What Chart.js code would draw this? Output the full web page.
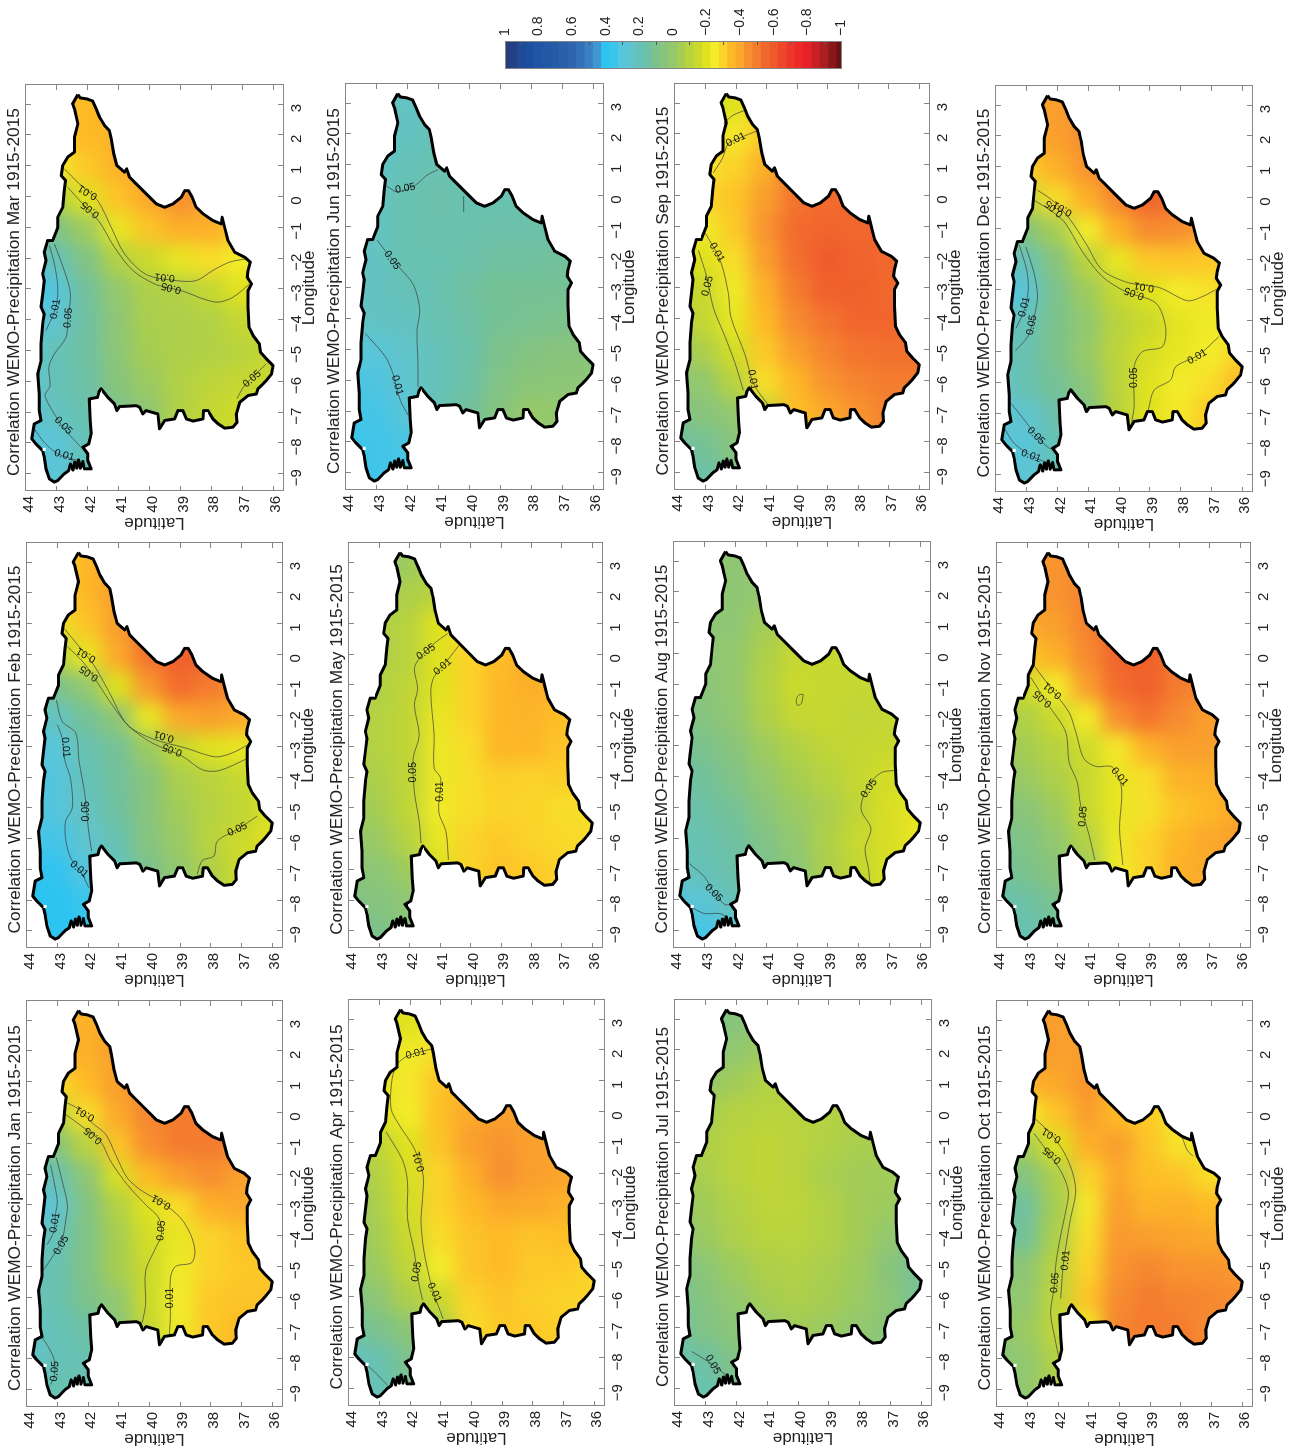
<!DOCTYPE html>
<html>
<head>
<meta charset="utf-8">
<title>Correlation WEMO-Precipitation 1915-2015</title>
<script src="https://cdn.jsdelivr.net/npm/chart.js@4"></script>
<style>
  html, body { margin: 0; width: 1291px; height: 1452px; overflow: hidden; background: #fff; }
  /* the whole figure is a landscape page turned a quarter turn */
  #figure { position: absolute; left: 0; top: 0; width: 1452px; height: 1291px; transform-origin: 0 0; transform: translate(0, 1452px) rotate(-90deg); }
  #figure canvas { position: absolute; }
</style>
</head>
<body>
<div id="figure"></div>
<script>
const MONTHS = ["Jan", "Feb", "Mar", "Apr", "May", "Jun", "Jul", "Aug", "Sep", "Oct", "Nov", "Dec"];
const LON_TICKS = [-9, -8, -7, -6, -5, -4, -3, -2, -1, 0, 1, 2, 3];
const LAT_TICKS = [36, 37, 38, 39, 40, 41, 42, 43, 44];
const COLORBAR_TICKS = [1, 0.8, 0.6, 0.4, 0.2, 0, -0.2, -0.4, -0.6, -0.8, -1];

// grid the correlation cells are read on
const GRID_LONS = [-9, -8, -7, -6, -5, -4, -3, -2, -1, 0, 1, 2, 3];
const GRID_LATS = [44, 43, 42, 41, 40, 39, 38, 37, 36];

const COLOR_LEVELS = [1, 0.95, 0.9, 0.85, 0.8, 0.75, 0.7, 0.65, 0.6, 0.55, 0.5, 0.45, 0.4, 0.35, 0.3, 0.25, 0.2, 0.15, 0.1, 0.05, 0,
  -0.05, -0.1, -0.15, -0.2, -0.25, -0.3, -0.35, -0.4, -0.45, -0.5, -0.55, -0.6, -0.65, -0.7, -0.75, -0.8, -0.85, -0.9, -0.95, -1];
const COLOR_VALUES = ["#2a3b7d", "#243f85", "#1f4a97", "#1c4f9f", "#1f55a3", "#2258a5", "#255ca8", "#2a60aa", "#2e65ad", "#3470b5", "#3b80c2", "#3f97d4", "#2cc4f1", "#3ac5ec", "#56c5dd", "#60c4cf", "#66c2b8", "#6dc1a6", "#7cc28c", "#88c47c", "#93c86f",
  "#a6cd52", "#b9d33e", "#cbd92c", "#e0e21f", "#f3ec2a", "#fbd32a", "#fdba26", "#fba92b", "#f78f30", "#f47c2f", "#f1682d", "#ef5a2c", "#ee482a", "#ed3829", "#ec2a28", "#e62228", "#c92026", "#aa1e22", "#8a181b", "#6b1312"];

const COAST_LONS = [3.31, 3.20, 3.17, 3.10, 2.85, 2.58, 2.31, 2.14, 1.87, 1.39, 1.01, 0.79, 0.90, 0.63, 0.47, 0.09, -0.24, -0.35, -0.24, -0.02, 0.19, 0.19, -0.02, -0.35, -0.56, -0.78, -0.89, -0.67, -1.0, -1.43, -1.81, -1.97, -2.13, -2.40, -2.62, -2.84, -3.05, -3.59, -4.24, -4.51, -4.78, -5.05, -5.27, -5.49, -5.76, -5.97, -6.08, -6.24, -6.41, -6.46, -6.68, -7.06, -7.33, -7.49, -7.52, -7.38, -7.22, -6.95, -6.95, -7.22, -7.29, -7.22, -6.95, -6.95, -7.22, -7.27, -7.54, -7.06, -6.95, -7.06, -6.84, -6.79, -6.82, -6.95, -6.73, -6.52, -6.24, -6.35, -6.52, -6.57, -7.29, -7.71, -8.03, -8.14, -8.35, -8.57, -8.84, -8.84, -8.6, -8.82, -8.55, -8.82, -8.62, -8.88, -8.68, -8.9, -9.0, -9.22, -9.27, -9.17, -8.84, -8.46, -8.25, -8.03, -7.87, -7.38, -7.27, -6.95, -6.41, -5.76, -5.32, -4.78, -4.13, -3.81, -3.59, -3.16, -2.73, -2.51, -2.08, -1.81, -1.43, -1.43, -1.0, -0.67, -0.35, 0.19, 0.52, 0.68, 1.01, 1.28, 1.44, 1.93, 2.36, 2.85, 3.01, 3.31];
const COAST_LATS = [42.32, 42.24, 42.03, 41.84, 41.73, 41.62, 41.46, 41.30, 41.24, 41.16, 41.06, 40.81, 40.74, 40.65, 40.49, 40.11, 39.78, 39.51, 39.24, 38.97, 38.86, 38.74, 38.62, 38.49, 38.27, 37.95, 37.68, 37.65, 37.57, 37.46, 37.24, 36.92, 36.74, 36.81, 36.84, 36.70, 36.81, 36.81, 36.78, 36.65, 36.45, 36.41, 36.22, 36.0, 36.05, 36.22, 36.32, 36.49, 36.54, 36.81, 37.08, 37.19, 37.17, 37.30, 37.57, 37.78, 37.95, 38.11, 38.25, 38.27, 38.59, 38.81, 38.92, 39.08, 39.19, 39.51, 39.68, 39.73, 40.11, 40.22, 40.32, 40.43, 40.97, 41.06, 41.14, 41.35, 41.57, 41.64, 41.68, 41.95, 41.92, 41.89, 41.97, 42.16, 42.0, 42.0, 41.89, 42.11, 42.16, 42.24, 42.30, 42.36, 42.42, 42.48, 42.56, 42.62, 42.76, 42.97, 43.08, 43.24, 43.35, 43.41, 43.46, 43.68, 43.81, 43.73, 43.51, 43.57, 43.57, 43.62, 43.51, 43.51, 43.46, 43.41, 43.51, 43.46, 43.41, 43.46, 43.35, 43.41, 43.30, 43.14, 42.97, 42.97, 42.81, 42.76, 42.72, 42.86, 42.81, 42.65, 42.43, 42.43, 42.32, 42.43, 42.49, 42.32];

// correlation per month: one row per GRID_LATS entry, one column per GRID_LONS entry
const corrJan = [
  [.2, .25, .22, .22, .22, .28, .32, .25, .15, .05, -.1, -.25, -.3],
  [.18, .2, .2, .18, .18, .2, .25, .18, .05, -.1, -.28, -.38, -.38],
  [.18, .18, .15, .1, .08, .08, .07, .02, -.1, -.28, -.35, -.38, -.38],
  [.1, .1, .05, 0, -.05, -.05, -.08, -.18, -.33, -.4, -.42, -.42, -.42],
  [-.1, -.1, -.13, -.15, -.15, -.17, -.2, -.35, -.45, -.47, -.47, -.47, -.47],
  [-.22, -.22, -.24, -.25, -.24, -.22, -.28, -.42, -.5, -.5, -.5, -.5, -.5],
  [-.32, -.32, -.32, -.32, -.3, -.3, -.38, -.45, -.5, -.5, -.5, -.5, -.5],
  [-.35, -.35, -.35, -.33, -.32, -.33, -.4, -.42, -.47, -.47, -.47, -.47, -.47],
  [-.33, -.33, -.33, -.33, -.33, -.33, -.38, -.4, -.45, -.45, -.45, -.45, -.45],
];
const corrFeb = [
  [.35, .4, .38, .33, .32, .32, .32, .28, .2, .05, -.1, -.22, -.28],
  [.4, .4, .38, .33, .3, .3, .28, .22, .1, -.1, -.22, -.28, -.3],
  [.38, .35, .3, .25, .22, .2, .18, .12, 0, -.22, -.33, -.36, -.36],
  [.25, .25, .22, .18, .14, .13, .12, .02, -.2, -.4, -.42, -.42, -.42],
  [.1, .1, .1, .06, .05, .05, -.02, -.22, -.43, -.52, -.52, -.5, -.5],
  [0, 0, 0, -.02, -.04, -.06, -.13, -.4, -.54, -.58, -.58, -.55, -.55],
  [-.08, -.08, -.07, -.1, -.09, -.1, -.2, -.42, -.5, -.56, -.56, -.56, -.56],
  [-.15, -.15, -.15, -.15, -.12, -.14, -.22, -.4, -.45, -.5, -.5, -.5, -.5],
  [-.2, -.2, -.2, -.2, -.18, -.16, -.2, -.3, -.4, -.45, -.45, -.45, -.45],
];
const corrMar = [
  [.28, .3, .3, .28, .28, .3, .35, .28, .15, -.05, -.2, -.28, -.32],
  [.28, .28, .22, .2, .2, .25, .3, .2, .08, -.08, -.25, -.32, -.33],
  [.22, .2, .18, .15, .14, .14, .13, .08, -.03, -.2, -.32, -.35, -.35],
  [.15, .12, .1, .05, .03, .02, 0, -.08, -.22, -.33, -.37, -.37, -.37],
  [.05, .05, .02, -.02, -.05, -.06, -.07, -.15, -.33, -.4, -.42, -.4, -.4],
  [-.08, -.08, -.08, -.08, -.07, -.07, -.08, -.22, -.38, -.45, -.46, -.45, -.45],
  [-.13, -.13, -.13, -.11, -.08, -.08, -.13, -.28, -.38, -.42, -.42, -.42, -.42],
  [-.16, -.16, -.16, -.13, -.1, -.13, -.2, -.25, -.33, -.36, -.36, -.36, -.36],
  [-.17, -.17, -.17, -.15, -.13, -.15, -.2, -.25, -.3, -.33, -.33, -.33, -.33],
];
const corrApr = [
  [.22, .22, .15, .1, .06, .03, .03, 0, -.05, -.15, -.2, -.2, -.2],
  [.2, .18, .1, .02, -.03, -.05, -.07, -.09, -.12, -.2, -.22, -.2, -.17],
  [.12, .1, .03, -.07, -.12, -.15, -.17, -.18, -.2, -.25, -.26, -.24, -.2],
  [0, 0, -.05, -.15, -.25, -.28, -.3, -.3, -.33, -.34, -.33, -.28, -.25],
  [-.28, -.28, -.28, -.3, -.33, -.33, -.35, -.38, -.42, -.4, -.37, -.35, -.33],
  [-.32, -.32, -.32, -.33, -.35, -.35, -.4, -.45, -.44, -.42, -.4, -.4, -.4],
  [-.33, -.33, -.32, -.31, -.32, -.33, -.4, -.42, -.42, -.41, -.41, -.41, -.41],
  [-.33, -.32, -.31, -.3, -.32, -.34, -.38, -.41, -.41, -.41, -.41, -.41, -.41],
  [-.3, -.3, -.3, -.3, -.3, -.32, -.36, -.4, -.4, -.4, -.4, -.4, -.4],
];
const corrMay = [
  [.1, .08, .05, .03, 0, -.03, -.05, -.06, -.07, -.05, -.02, 0, 0],
  [.1, .06, .03, -.02, -.05, -.07, -.09, -.09, -.08, -.07, -.07, -.03, 0],
  [.04, .02, -.03, -.09, -.12, -.12, -.12, -.12, -.12, -.1, -.1, -.07, -.03],
  [-.05, -.05, -.18, -.22, -.24, -.23, -.23, -.22, -.2, -.2, -.2, -.1, -.1],
  [-.3, -.3, -.3, -.3, -.28, -.28, -.28, -.3, -.3, -.3, -.28, -.25, -.25],
  [-.3, -.3, -.33, -.32, -.3, -.31, -.36, -.36, -.36, -.34, -.34, -.34, -.34],
  [-.32, -.33, -.32, -.3, -.3, -.3, -.36, -.37, -.38, -.4, -.38, -.38, -.38],
  [-.3, -.3, -.3, -.29, -.28, -.31, -.33, -.34, -.38, -.38, -.38, -.38, -.38],
  [-.28, -.28, -.28, -.28, -.28, -.3, -.32, -.33, -.36, -.36, -.36, -.36, -.36],
];
const corrJun = [
  [.33, .34, .34, .33, .3, .25, .25, .25, .24, .24, .24, .24, .24],
  [.34, .34, .33, .31, .28, .22, .22, .22, .22, .22, .23, .24, .24],
  [.33, .32, .28, .25, .24, .22, .2, .18, .18, .18, .2, .22, .22],
  [.2, .2, .2, .2, .2, .18, .18, .18, .17, .16, .18, .2, .2],
  [.12, .12, .13, .15, .16, .15, .14, .16, .17, .18, .18, .2, .2],
  [.05, .05, .06, .08, .1, .12, .12, .14, .16, .18, .18, .18, .18],
  [0, 0, -.01, .04, .07, .11, .12, .14, .16, .17, .17, .17, .17],
  [0, 0, 0, .03, .05, .1, .12, .13, .15, .15, .15, .15, .15],
  [.03, .03, .03, .03, .05, .1, .12, .13, .15, .15, .15, .15, .15],
];
const corrJul = [
  [.2, .18, .15, .12, .1, .05, .02, -.02, -.04, -.02, .03, .1, .12],
  [.18, .14, .08, .06, .03, -.02, -.04, -.06, -.07, -.05, 0, .08, .12],
  [.12, .08, .03, 0, -.03, -.07, -.08, -.1, -.1, -.09, -.04, 0, .05],
  [.05, .03, 0, -.05, -.07, -.1, -.11, -.12, -.12, -.1, -.08, -.03, 0],
  [0, 0, -.04, -.07, -.08, -.1, -.11, -.1, -.1, -.1, -.1, -.1, -.1],
  [0, 0, -.02, -.05, -.06, -.08, -.08, -.06, -.08, -.09, -.1, -.1, -.1],
  [.02, .02, 0, -.02, -.03, -.04, -.04, -.04, -.06, -.06, -.06, -.06, -.06],
  [.05, .05, .04, .03, .05, 0, -.03, -.04, -.05, -.05, -.05, -.05, -.05],
  [.1, .1, .1, .12, .12, .05, 0, -.03, -.04, -.04, -.04, -.04, -.04],
];
const corrAug = [
  [.3, .3, .22, .2, .2, .18, .15, .1, .08, .03, 0, -.02, 0],
  [.33, .27, .2, .18, .15, .13, .1, .06, .04, .02, .02, 0, 0],
  [.28, .2, .16, .14, .12, .08, .05, .01, 0, 0, .02, .02, .02],
  [.18, .13, .1, .08, .04, 0, -.03, -.07, -.08, -.07, -.04, 0, 0],
  [.05, .05, .03, 0, -.02, -.05, -.08, -.13, -.15, -.13, -.1, -.08, -.05],
  [-.07, -.07, -.06, -.07, -.06, -.09, -.12, -.14, -.14, -.14, -.12, -.12, -.12],
  [-.12, -.13, -.13, -.14, -.12, -.13, -.13, -.12, -.13, -.13, -.13, -.13, -.13],
  [-.17, -.17, -.18, -.18, -.18, -.17, -.14, -.13, -.13, -.13, -.13, -.13, -.13],
  [-.2, -.2, -.2, -.22, -.22, -.2, -.16, -.14, -.13, -.13, -.13, -.13, -.13],
];
const corrSep = [
  [.18, .14, .08, .03, 0, -.07, -.1, -.14, -.2, -.25, -.22, -.15, -.12],
  [.15, .12, .05, 0, -.07, -.13, -.15, -.2, -.24, -.3, -.27, -.18, -.12],
  [.1, .05, 0, -.1, -.17, -.22, -.24, -.28, -.32, -.33, -.3, -.26, -.2],
  [0, -.03, -.12, -.28, -.32, -.35, -.38, -.42, -.44, -.42, -.38, -.32, -.3],
  [-.3, -.3, -.34, -.36, -.42, -.46, -.5, -.53, -.54, -.52, -.5, -.5, -.5],
  [-.35, -.36, -.4, -.44, -.48, -.52, -.58, -.6, -.56, -.54, -.54, -.54, -.54],
  [-.42, -.42, -.44, -.48, -.52, -.56, -.58, -.57, -.55, -.55, -.55, -.55, -.55],
  [-.48, -.48, -.48, -.5, -.53, -.56, -.55, -.55, -.55, -.55, -.55, -.55, -.55],
  [-.5, -.5, -.5, -.5, -.53, -.55, -.55, -.55, -.55, -.55, -.55, -.55, -.55],
];
const corrOct = [
  [.08, .05, .02, .02, .05, .16, .18, .06, 0, -.1, -.3, -.42, -.44],
  [0, 0, -.02, 0, .02, .12, .13, .06, -.05, -.25, -.38, -.45, -.44],
  [-.07, -.08, -.12, -.12, -.1, -.07, -.05, -.07, -.2, -.33, -.4, -.42, -.42],
  [-.15, -.2, -.24, -.33, -.3, -.28, -.26, -.3, -.38, -.42, -.44, -.42, -.42],
  [-.48, -.48, -.48, -.46, -.44, -.43, -.42, -.4, -.42, -.35, -.36, -.36, -.36],
  [-.5, -.5, -.5, -.5, -.47, -.42, -.37, -.34, -.33, -.32, -.3, -.3, -.3],
  [-.48, -.5, -.5, -.48, -.44, -.41, -.38, -.33, -.27, -.25, -.25, -.25, -.25],
  [-.46, -.46, -.46, -.47, -.44, -.4, -.35, -.28, -.23, -.23, -.23, -.23, -.23],
  [-.45, -.45, -.45, -.45, -.43, -.4, -.35, -.28, -.23, -.23, -.23, -.23, -.23],
];
const corrNov = [
  [.2, .18, .15, .12, .08, .05, 0, -.05, -.15, -.3, -.38, -.42, -.42],
  [.18, .15, .1, .08, .04, -.02, -.05, -.08, -.16, -.33, -.4, -.44, -.42],
  [.15, .1, .05, 0, -.03, -.07, -.1, -.15, -.25, -.38, -.42, -.44, -.44],
  [.05, .02, -.02, -.09, -.14, -.14, -.16, -.25, -.42, -.46, -.48, -.48, -.48],
  [-.24, -.24, -.24, -.23, -.22, -.22, -.26, -.45, -.54, -.56, -.56, -.56, -.56],
  [-.28, -.28, -.3, -.3, -.27, -.28, -.37, -.52, -.58, -.58, -.58, -.58, -.58],
  [-.35, -.38, -.38, -.36, -.33, -.37, -.42, -.46, -.5, -.52, -.52, -.52, -.52],
  [-.38, -.38, -.4, -.4, -.36, -.38, -.42, -.42, -.46, -.46, -.46, -.46, -.46],
  [-.42, -.42, -.42, -.42, -.4, -.4, -.42, -.42, -.44, -.44, -.44, -.44, -.44],
];
const corrDec = [
  [.25, .3, .28, .25, .22, .28, .33, .25, .1, -.1, -.28, -.35, -.4],
  [.27, .28, .25, .18, .18, .2, .27, .2, .05, -.12, -.3, -.4, -.42],
  [.22, .2, .16, .12, .1, .1, .1, .05, -.05, -.28, -.38, -.42, -.42],
  [.15, .1, .08, .03, -.01, 0, -.03, -.1, -.25, -.38, -.44, -.45, -.45],
  [-.08, -.1, -.1, -.1, -.11, -.1, -.14, -.22, -.38, -.47, -.5, -.5, -.5],
  [-.2, -.2, -.2, -.2, -.18, -.15, -.2, -.32, -.46, -.56, -.56, -.56, -.56],
  [-.27, -.27, -.26, -.25, -.22, -.21, -.25, -.33, -.45, -.52, -.52, -.52, -.52],
  [-.32, -.32, -.32, -.28, -.25, -.24, -.27, -.32, -.4, -.45, -.45, -.45, -.45],
  [-.35, -.35, -.36, -.36, -.3, -.26, -.28, -.32, -.4, -.42, -.42, -.42, -.42],
];

// significance contours, [lon, lat] pairs
const contoursJan = [
  [[-1.69, 43.23], [-2.23, 43.12], [-2.88, 43.01], [-3.31, 43.07], [-3.85, 43.12], [-4.29, 43.34]],
  [[-1.47, 43.04], [-2.23, 42.85], [-3.0, 42.68], [-3.53, 42.74], [-4.12, 42.85], [-4.61, 43.12], [-5.1, 43.45]],
  [[-7.26, 43.52], [-7.86, 43.17], [-8.18, 43.09], [-8.61, 43.12], [-8.83, 43.23]],
  [[0.31, 42.68], [0.10, 42.30], [-0.34, 41.87], [-0.71, 41.43], [-1.36, 41.11], [-2.12, 40.73], [-2.55, 40.24], [-2.92, 39.59], [-3.42, 38.99], [-3.96, 38.66], [-4.50, 38.52], [-4.88, 38.63], [-4.99, 39.15], [-5.37, 39.32], [-6.56, 39.32], [-7.21, 39.35]],
  [[-0.06, 42.74], [-0.50, 42.14], [-0.93, 41.60], [-1.58, 41.27], [-2.34, 40.73], [-2.99, 40.13], [-3.42, 39.70], [-3.96, 39.61], [-4.39, 39.80], [-5.15, 40.13], [-6.23, 40.13], [-6.83, 40.24]],
];
const labelsJan = [[-3.58, 43.09, "0.01", -80], [-4.31, 42.88, "0.05", -60], [-8.40, 43.09, "0.05", -85], [-0.04, 42.11, "0.01", -150], [-0.75, 41.84, "0.05", -140], [-2.90, 39.62, "0.01", -150], [-3.83, 39.62, "0.05", -85], [-6.02, 39.32, "0.01", -90]];
const contoursFeb = [
  [[-1.49, 43.04], [-2.19, 42.85], [-2.56, 42.41], [-3.48, 42.30], [-4.57, 42.11], [-5.65, 42.0], [-6.41, 41.89]],
  [[-2.29, 43.01], [-2.73, 42.85], [-3.48, 42.76], [-4.03, 42.58], [-5.0, 42.52], [-5.43, 42.74], [-6.0, 42.74], [-6.62, 42.58], [-7.06, 42.25], [-7.6, 41.98]],
  [[0.84, 42.79], [0.25, 42.30], [-0.35, 41.82], [-1.21, 41.33], [-2.29, 40.73], [-2.75, 39.91], [-3.05, 38.83], [-3.34, 37.85], [-3.21, 37.30], [-2.94, 36.78]],
  [[0.25, 42.68], [-0.29, 42.14], [-1.0, 41.65], [-1.65, 41.22], [-2.35, 40.67], [-2.89, 39.91], [-3.32, 38.93], [-3.76, 38.28], [-3.79, 37.74], [-3.38, 36.78]],
  [[-5.27, 36.49], [-5.70, 37.14], [-6.08, 37.79], [-6.57, 37.90], [-6.71, 38.28], [-7.16, 38.45]],
];
const labelsFeb = [[-3.03, 42.74, "0.01", 85], [-5.11, 42.07, "0.05", -90], [-7.0, 42.30, "0.01", 40], [-0.02, 42.07, "0.01", -150], [-0.62, 41.98, "0.05", -145], [-2.67, 39.53, "0.01", -165], [-3.11, 39.26, "0.05", -160], [-5.70, 37.14, "0.05", -25]];
const contoursMar = [
  [[-1.59, 43.24], [-2.19, 43.08], [-2.94, 42.97], [-3.59, 43.03], [-4.35, 43.35]],
  [[-1.54, 43.08], [-2.40, 42.76], [-3.16, 42.56], [-4.03, 42.65], [-4.57, 42.70], [-5.11, 43.08], [-5.54, 43.26], [-6.14, 43.22], [-6.46, 43.38], [-7.06, 43.08], [-7.54, 42.76], [-8.14, 42.22]],
  [[-7.54, 43.73], [-7.98, 43.41], [-8.35, 42.97], [-8.57, 42.32]],
  [[0.90, 42.76], [0.41, 42.27], [-0.13, 41.68], [-1.0, 41.24], [-1.86, 40.81], [-2.53, 40.11], [-2.73, 39.14], [-2.73, 38.49], [-2.40, 37.95], [-2.13, 37.41], [-2.02, 36.86]],
  [[0.30, 42.65], [-0.24, 42.16], [-0.83, 41.62], [-1.64, 41.14], [-2.40, 40.54], [-2.86, 39.78], [-3.07, 38.92], [-3.32, 38.27], [-3.43, 37.78], [-3.27, 37.30], [-2.86, 36.78]],
  [[-5.43, 36.22], [-6.13, 36.92], [-6.56, 37.17]],
];
const labelsMar = [[-3.65, 43.05, "0.01", -80], [-3.94, 42.63, "0.05", -85], [-7.44, 42.79, "0.05", 45], [-8.40, 42.76, "0.01", 15], [0.14, 42.0, "0.01", -150], [-0.43, 41.92, "0.05", -140], [-2.62, 39.51, "0.01", -175], [-2.97, 39.30, "0.05", -165], [-5.92, 36.68, "0.05", -40]];
const contoursApr = [
  [[2.05, 41.22], [1.83, 42.03], [1.56, 42.41], [1.07, 42.59], [0.10, 42.63], [-0.44, 42.36], [-1.20, 41.87], [-2.07, 41.58], [-2.82, 41.60], [-3.58, 41.65], [-4.56, 41.55], [-5.75, 41.28], [-6.73, 40.93]],
  [[-0.66, 42.79], [-1.58, 42.25], [-2.28, 42.09], [-3.47, 42.09], [-4.56, 41.87], [-5.53, 41.73], [-6.13, 41.60]],
  [[-7.91, 43.76], [-8.45, 43.17], [-8.89, 42.74]],
];
const labelsApr = [[1.88, 41.82, "0.01", -15], [-1.63, 41.71, "0.01", -105], [-5.2, 41.79, "0.05", -80], [-5.88, 41.22, "0.01", 65]];
const contoursMay = [
  [[0.67, 40.76], [0.35, 41.20], [-0.14, 41.69], [-0.47, 41.85], [-1.12, 41.74], [-1.66, 41.85], [-2.64, 41.69], [-3.39, 41.89], [-4.47, 41.85], [-5.44, 41.69], [-6.15, 41.63]],
  [[0.29, 40.38], [-0.19, 40.76], [-0.73, 41.20], [-1.22, 41.31], [-2.63, 41.20], [-3.71, 41.20], [-4.04, 40.98], [-5.12, 41.05], [-5.77, 40.81], [-6.69, 40.73]],
];
const labelsMay = [[0.08, 41.47, "0.05", -35], [-0.41, 40.92, "0.01", -40], [-3.84, 41.89, "0.05", -90], [-4.47, 41.01, "0.01", -90]];
const contoursJun = [
  [[0.30, 42.67], [0.12, 42.34], [0.34, 41.75], [0.66, 41.38], [0.84, 41.02]],
  [[-1.45, 42.99], [-1.94, 42.61], [-2.37, 42.24], [-2.91, 41.81], [-3.72, 41.61], [-4.37, 41.70], [-5.45, 41.67], [-6.21, 41.67]],
  [[-4.48, 43.37], [-5.24, 42.72], [-5.78, 42.48], [-6.65, 42.24], [-7.13, 41.99]],
  [[-0.02, 40.19], [-0.53, 40.19]],
];
const labelsJun = [[0.23, 42.08, "0.05", -10], [-2.10, 42.51, "0.05", 55], [-6.16, 42.34, "0.01", 75]];
const contoursJul = [
  [[-7.79, 43.45], [-8.2, 42.8], [-8.67, 42.2]],
];
const labelsJul = [[-8.21, 42.77, "0.05", 60]];
const contoursAug = [
  [[-3.79, 36.73], [-3.86, 37.25], [-4.27, 37.68], [-4.82, 37.90], [-5.14, 37.90], [-5.68, 37.60], [-6.33, 37.79], [-6.98, 37.68], [-7.47, 37.63]],
  [[-1.33, 39.80], [-1.62, 39.86], [-1.68, 39.99], [-1.46, 40.02], [-1.33, 39.91], [-1.33, 39.80]],
  [[-6.82, 43.5], [-7.25, 43.01], [-7.79, 42.68], [-8.15, 42.34], [-8.12, 42.09]],
  [[-8.23, 43.45], [-8.44, 43.01], [-8.44, 42.52], [-8.58, 42.23]],
];
const labelsAug = [[-4.38, 37.66, "0.05", -55], [-7.77, 42.71, "0.05", 45]];
const contoursSep = [
  [[0.74, 42.74], [1.20, 42.45], [1.69, 42.25], [1.85, 41.92], [2.12, 41.27]],
  [[2.34, 42.41], [2.61, 42.09], [2.77, 41.70]],
  [[-1.23, 43.0], [-2.10, 42.52], [-3.18, 42.25], [-3.94, 42.17], [-5.18, 41.70], [-6.10, 41.43], [-6.81, 40.94]],
  [[-1.78, 43.23], [-2.64, 42.96], [-3.65, 42.74], [-4.58, 42.36], [-5.45, 42.03], [-6.33, 41.76]],
];
const labelsSep = [[1.81, 42.01, "0.01", -25], [-1.85, 42.63, "0.01", 60], [-2.94, 42.93, "0.05", -75], [-5.98, 41.46, "0.01", 80]];
const contoursOct = [
  [[-0.19, 42.77], [-0.68, 42.25], [-1.28, 41.82], [-1.93, 41.54], [-2.58, 41.43], [-3.44, 41.60], [-4.09, 41.71], [-4.96, 41.84], [-6.04, 41.92]],
  [[-0.68, 42.79], [-1.34, 42.30], [-1.99, 41.87], [-2.58, 41.67], [-3.22, 41.76], [-3.98, 41.92], [-4.85, 42.07], [-5.71, 42.14], [-6.50, 42.25], [-7.33, 42.11], [-8.04, 41.96]],
  [[-0.79, 37.96], [-1.23, 37.79], [-1.41, 37.61]],
];
const labelsOct = [[-0.74, 42.22, "0.01", -150], [-1.39, 42.2, "0.05", -140], [-4.80, 41.76, "0.01", -85], [-5.53, 42.11, "0.05", -85]];
const contoursNov = [
  [[-0.37, 42.78], [-1.18, 42.17], [-1.89, 41.63], [-2.53, 41.41], [-3.40, 41.14], [-3.65, 40.75], [-3.67, 40.21], [-4.21, 39.93], [-4.70, 39.90], [-5.67, 39.97], [-6.86, 39.86]],
  [[-0.75, 42.89], [-1.61, 42.34], [-2.53, 41.74], [-3.51, 41.63], [-4.16, 41.36], [-4.91, 41.25], [-5.89, 40.97], [-6.70, 40.78]],
];
const labelsNov = [[-1.18, 42.17, "0.01", -140], [-1.45, 42.5, "0.05", -140], [-3.99, 39.97, "0.01", 50], [-5.28, 41.17, "0.05", -85]];
const contoursDec = [
  [[-1.55, 43.24], [-2.36, 43.0], [-3.0, 42.95], [-3.65, 43.08], [-4.25, 43.35]],
  [[-1.6, 43.03], [-2.46, 42.76], [-3.22, 42.65], [-3.87, 42.76], [-4.52, 42.97], [-4.97, 43.37]],
  [[-6.68, 43.51], [-7.22, 43.08], [-7.71, 42.70], [-8.14, 42.27], [-8.14, 42.03]],
  [[-7.49, 43.73], [-7.98, 43.41], [-8.41, 42.81], [-8.61, 42.32]],
  [[0.24, 42.65], [-0.14, 42.11], [-0.74, 41.57], [-1.49, 41.08], [-2.36, 40.54], [-2.77, 39.68], [-2.92, 38.70], [-3.35, 37.78], [-3.22, 37.30], [-2.95, 36.78]],
  [[-0.09, 42.76], [-0.39, 42.27], [-0.79, 41.78], [-1.76, 41.19], [-2.57, 40.54], [-3.06, 39.78], [-3.42, 38.81], [-4.19, 38.49], [-4.84, 38.59], [-5.0, 39.24], [-5.49, 39.51], [-6.79, 39.51], [-7.28, 39.59]],
  [[-4.52, 36.76], [-5.11, 37.41], [-5.49, 38.16], [-5.92, 38.32], [-6.25, 38.86], [-6.90, 39.05]],
];
const labelsDec = [[-3.55, 43.08, "0.01", -75], [-4.14, 42.84, "0.05", -80], [-7.74, 42.7, "0.05", 45], [-8.39, 42.86, "0.01", 20], [-0.36, 42.11, "0.05", -140], [-0.36, 41.84, "0.01", -150], [-2.9, 39.19, "0.01", -170], [-3.11, 39.51, "0.05", -160], [-5.85, 39.51, "0.05", -90], [-5.17, 37.46, "0.01", -30]];

const CORR = [corrJan, corrFeb, corrMar, corrApr, corrMay, corrJun, corrJul, corrAug, corrSep, corrOct, corrNov, corrDec];
const CONTOURS = [contoursJan, contoursFeb, contoursMar, contoursApr, contoursMay, contoursJun, contoursJul, contoursAug, contoursSep, contoursOct, contoursNov, contoursDec];
const LABELS = [labelsJan, labelsFeb, labelsMar, labelsApr, labelsMay, labelsJun, labelsJul, labelsAug, labelsSep, labelsOct, labelsNov, labelsDec];

// plot area of each panel in the unrotated figure: left, top, right, bottom
const PANEL_AREAS = [
  [45, 27, 451, 282], [504, 27, 909, 282], [961, 26, 1367, 283],
  [46, 349, 452, 604], [504, 349, 909, 602], [962, 346, 1368, 603],
  [46, 675, 452, 931], [504, 674, 910, 930], [962, 675, 1368, 929],
  [45, 997, 451, 1252], [504, 997, 909, 1250], [960, 996, 1366, 1252],
];
const MARGIN_LEFT = 42, MARGIN_RIGHT = 34, MARGIN_TOP = 26, MARGIN_BOTTOM = 37;
const AXIS_GREY = "#858585";
const FONT = "'Liberation Sans', Arial, sans-serif";

function hexToRgb(hex) {
  return [1, 3, 5].map((i) => parseInt(hex.slice(i, i + 2), 16));
}

function corrColor(v) {
  for (let i = 1; i < COLOR_LEVELS.length; i++) {
    if (v >= COLOR_LEVELS[i]) {
      const t = (v - COLOR_LEVELS[i]) / (COLOR_LEVELS[i - 1] - COLOR_LEVELS[i]);
      const a = hexToRgb(COLOR_VALUES[i]);
      const b = hexToRgb(COLOR_VALUES[i - 1]);
      return `rgb(${a.map((c, k) => Math.round(c + (b[k] - c) * t)).join(",")})`;
    }
  }
  return COLOR_VALUES[COLOR_VALUES.length - 1];
}

function tickText(v) {
  return v < 0 ? "\u2212" + Math.abs(v) : String(v);
}

function addCanvas(left, top, width, height) {
  const canvas = document.createElement("canvas");
  canvas.width = width;
  canvas.height = height;
  canvas.style.left = left + "px";
  canvas.style.top = top + "px";
  canvas.style.width = width + "px";
  canvas.style.height = height + "px";
  document.getElementById("figure").appendChild(canvas);
  return canvas;
}

// a scale's labels must not nudge the plot area away from its fixed box
function fixBox(axis, size) {
  if (axis.isHorizontal()) axis.height = size; else axis.width = size;
  axis.paddingTop = axis.paddingBottom = axis.paddingLeft = axis.paddingRight = 0;
}

function axisLines(position, tickValues, min, max, size) {
  return {
    type: "linear",
    position,
    min,
    max,
    afterBuildTicks: (axis) => { axis.ticks = tickValues.map((value) => ({ value })); },
    afterFit: (axis) => fixBox(axis, size),
    ticks: { display: false },
    border: { color: AXIS_GREY, z: 1 },
    grid: { color: AXIS_GREY, drawOnChartArea: false, tickLength: -5, z: 1 },
  };
}

function traceCoast(ctx, scales) {
  COAST_LONS.forEach((lon, i) => {
    ctx.lineTo(scales.x.getPixelForValue(lon), scales.y.getPixelForValue(COAST_LATS[i]));
  });
  ctx.closePath();
}

// softens the correlation cells into a field and keeps only what lies inside the coast
const fieldPlugin = {
  id: "field",
  afterDatasetDraw(chart, args) {
    if (args.index !== 0) return;
    const { ctx, scales, chartArea, canvas } = chart;
    const copy = document.createElement("canvas");
    copy.width = canvas.width;
    copy.height = canvas.height;
    copy.getContext("2d").drawImage(canvas, 0, 0);

    ctx.save();
    ctx.beginPath();
    traceCoast(ctx, scales);
    ctx.clip();
    ctx.filter = "blur(9px)";
    ctx.drawImage(copy, 0, 0);
    ctx.restore();

    ctx.save();
    ctx.globalCompositeOperation = "destination-out";
    ctx.beginPath();
    ctx.rect(chartArea.left - 3, chartArea.top - 3, chartArea.width + 6, chartArea.height + 6);
    traceCoast(ctx, scales);
    ctx.fill("evenodd");
    ctx.restore();
  },
};

const contourLabelPlugin = {
  id: "contourLabels",
  afterDatasetsDraw(chart, args, opts) {
    const { ctx, scales } = chart;
    ctx.save();
    ctx.font = "10.5px " + FONT;
    ctx.fillStyle = "#111";
    ctx.textAlign = "center";
    ctx.textBaseline = "middle";
    for (const [lon, lat, text, deg] of opts.items) {
      ctx.save();
      ctx.translate(scales.x.getPixelForValue(lon), scales.y.getPixelForValue(lat));
      // angles were read on the turned page, so add the quarter turn back
      ctx.rotate(((deg + 90) * Math.PI) / 180);
      ctx.fillText(text, 0, 0);
      ctx.restore();
    }
    ctx.restore();
  },
};

function drawPanel(m) {
  const [left, top, right, bottom] = PANEL_AREAS[m];
  const canvas = addCanvas(left - MARGIN_LEFT, top - MARGIN_TOP, right - left + MARGIN_LEFT + MARGIN_RIGHT, bottom - top + MARGIN_TOP + MARGIN_BOTTOM);

  const cells = [];
  const cellColors = [];
  GRID_LATS.forEach((lat, r) => {
    GRID_LONS.forEach((lon, c) => {
      cells.push({ x: lon, y: lat });
      cellColors.push(corrColor(CORR[m][r][c]));
    });
  });

  const datasets = [
    { label: "correlation", data: cells, pointStyle: "rect", pointRadius: 24, pointBorderWidth: 0, pointBackgroundColor: cellColors, clip: 3, order: 4 },
    ...CONTOURS[m].map((line, i) => ({
      label: "contour " + i,
      data: line.map(([x, y]) => ({ x, y })),
      showLine: true,
      pointRadius: 0,
      borderColor: "#3c3c3c",
      borderWidth: 0.7,
      tension: 0.3,
      order: 3,
    })),
    {
      label: "coast",
      data: COAST_LONS.map((x, i) => ({ x, y: COAST_LATS[i] })),
      showLine: true,
      pointRadius: 0,
      borderColor: "#000",
      borderWidth: 3,
      borderJoinStyle: "round",
      clip: false,
      order: 2,
    },
    { label: "gap", data: [{ x: -8.21, y: 43.41 }], pointStyle: "rect", pointRadius: 2.2, pointBorderWidth: 0, pointBackgroundColor: "#fff", order: 1 },
  ];

  const lonMin = -9.56, lonMax = 3.62, latMin = 35.68, latMax = 44;

  new Chart(canvas, {
    type: "scatter",
    data: { datasets },
    plugins: [fieldPlugin, contourLabelPlugin],
    options: {
      animation: false,
      responsive: false,
      plugins: {
        legend: { display: false },
        tooltip: { enabled: false },
        contourLabels: { items: LABELS[m] },
        title: {
          display: true,
          text: `Correlation WEMO-Precipitation ${MONTHS[m]} 1915-2015`,
          color: "#222",
          font: { family: FONT, size: 17.3, weight: "normal" },
          padding: { top: 3.6, bottom: 1.6 },
        },
      },
      scales: {
        x: {
          type: "linear",
          position: "bottom",
          min: lonMin,
          max: lonMax,
          afterBuildTicks: (axis) => { axis.ticks = LON_TICKS.map((value) => ({ value })); },
          afterFit: (axis) => fixBox(axis, MARGIN_BOTTOM),
          ticks: { color: "#222", padding: 10, labelOffset: -4, maxRotation: 0, autoSkip: false, font: { family: FONT, size: 15 }, callback: tickText },
          title: { display: true, text: "Longitude", color: "#222", padding: 0, font: { family: FONT, size: 17 } },
          border: { color: AXIS_GREY, z: 1 },
          grid: { color: AXIS_GREY, drawOnChartArea: false, tickLength: -5, z: 1 },
        },
        y: {
          type: "linear",
          position: "left",
          min: latMin,
          max: latMax,
          afterBuildTicks: (axis) => { axis.ticks = LAT_TICKS.map((value) => ({ value })); },
          afterFit: (axis) => fixBox(axis, MARGIN_LEFT),
          ticks: { color: "#222", padding: 10, labelOffset: 3, autoSkip: false, font: { family: FONT, size: 15 }, callback: tickText },
          title: { display: true, text: "Latitude", color: "#222", padding: 0, font: { family: FONT, size: 17 } },
          border: { color: AXIS_GREY, z: 1 },
          grid: { color: AXIS_GREY, drawOnChartArea: false, tickLength: -5, z: 1 },
        },
        xTop: axisLines("top", LON_TICKS, lonMin, lonMax, 0),
        yRight: axisLines("right", LAT_TICKS, latMin, latMax, MARGIN_RIGHT),
      },
    },
  });
}

function drawColorbar() {
  const padLeft = 6, padV = 12, labelRoom = 50;
  const barLeft = 1383, barTop = 505, barWidth = 27, barHeight = 336;
  const canvas = addCanvas(barLeft - padLeft, barTop - padV, padLeft + barWidth + labelRoom, barHeight + 2 * padV);
  const edge = (position, min, max, size) => ({
    type: "linear", position, min, max,
    offset: false,
    afterFit: (axis) => fixBox(axis, size),
    ticks: { display: false },
    border: { color: AXIS_GREY, z: 1 },
    grid: { display: false },
  });
  new Chart(canvas, {
    type: "bar",
    data: {
      datasets: [{
        xAxisID: "x",
        yAxisID: "y",
        data: COLOR_LEVELS.map((y) => ({ x: 1, y })),
        backgroundColor: COLOR_VALUES,
        barPercentage: 1,
        categoryPercentage: 1,
      }],
    },
    options: {
      indexAxis: "y",
      animation: false,
      responsive: false,
      layout: { padding: { left: padLeft, top: padV, bottom: padV } },
      plugins: { legend: { display: false }, tooltip: { enabled: false } },
      scales: {
        x: edge("bottom", 0, 1, 0),
        xTop: edge("top", 0, 1, 0),
        yLeft: edge("left", -1, 1, 0),
        y: {
          type: "linear", min: -1, max: 1, position: "right",
          offset: false,
          afterBuildTicks: (axis) => { axis.ticks = COLORBAR_TICKS.map((value) => ({ value })); },
          afterFit: (axis) => fixBox(axis, labelRoom),
          ticks: { color: "#222", padding: 9, autoSkip: false, font: { family: FONT, size: 14 }, callback: tickText },
          border: { color: AXIS_GREY, z: 1 },
          grid: { color: "#555", drawOnChartArea: false, tickLength: -3, z: 1 },
        },
      },
    },
  });
}

MONTHS.forEach((_, m) => drawPanel(m));
drawColorbar();
</script>
</body>
</html>
